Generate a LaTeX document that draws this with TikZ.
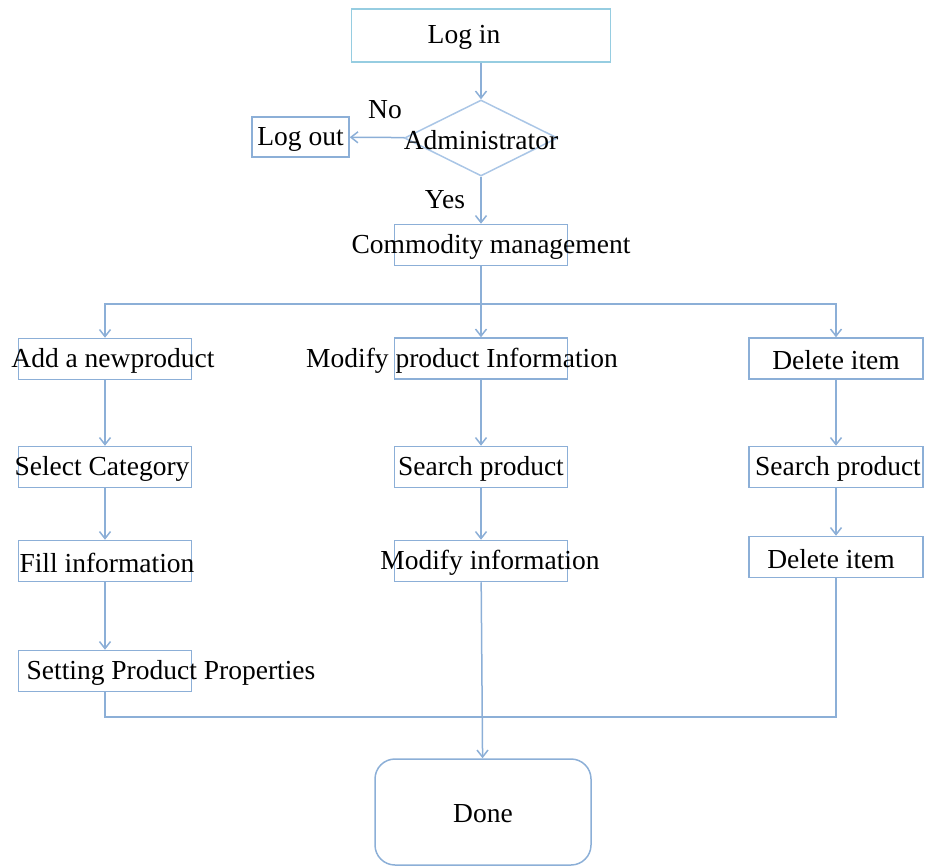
\documentclass[tikz,border=0pt]{standalone}
\usepackage{fontspec}
\setmainfont{Liberation Serif}
\usetikzlibrary{arrows.meta,shapes.geometric}

\definecolor{edgeblue}{RGB}{140,175,215}
\definecolor{loginblue}{RGB}{150,205,225}
\definecolor{diamblue}{RGB}{170,198,230}

\tikzset{
  txt/.style={font=\fontsize{27.5}{33}\selectfont, inner sep=0pt, yshift=-2pt},
  stepbox/.style={draw=edgeblue, line width=1.5pt, inner sep=0pt, minimum width=173pt, minimum height=41pt},
  flow/.style={draw=edgeblue, line width=1.5pt},
  flowarrow/.style={flow, -{Straight Barb[length=7pt,width=11pt]}}
}

\begin{document}
\begin{tikzpicture}[x=1pt,y=-1pt]
  \useasboundingbox (0,0) rectangle (928,866);

  % top part
  \node[stepbox, draw=loginblue, minimum width=259pt, minimum height=53pt,
        label={[txt,xshift=-17pt]center:Log in}] (login) at (481,35.5) {};
  \node[draw=diamblue, line width=1.5pt, shape=diamond, inner sep=0pt, minimum width=153pt, minimum height=76pt,
        label={[txt]center:Administrator}] (admin) at (481,138) {};
  \node[stepbox, minimum width=97pt, minimum height=40pt,
        label={[txt]center:Log out}] (logout) at (300.5,137) {};
  \node[stepbox, label={[txt,xshift=10pt]center:Commodity management}] (cm) at (481,245) {};
  \node[txt] (no) at (385,108) {No};
  \node[txt] (yes) at (445,198) {Yes};

  % three columns
  \node[stepbox, label={[txt,xshift=8pt]center:Add a newproduct}] (add) at (105,359) {};
  \node[stepbox, label={[txt,xshift=-3pt]center:Select Category}] (selcat) at (105,467) {};
  \node[stepbox, label={[txt,xshift=2pt]center:Fill information}] (fill) at (105,561) {};
  \node[stepbox, label={[txt,xshift=66pt]center:Setting Product Properties}] (setprop) at (105,671) {};

  \node[stepbox, label={[txt,xshift=-19pt]center:Modify product Information}] (modprod) at (481,358.5) {};
  \node[stepbox, label={[txt]center:Search product}] (search1) at (481,467) {};
  \node[stepbox, label={[txt,xshift=9pt]center:Modify information}] (modinfo) at (481,561) {};

  \node[stepbox, minimum width=174pt, label={[txt]center:Delete item}] (delitem) at (836,358.5) {};
  \node[stepbox, minimum width=174pt, label={[txt,xshift=2pt]center:Search product}] (search2) at (836,467) {};
  \node[stepbox, minimum width=174pt, label={[txt,xshift=-5pt]center:Delete item}] (delitem2) at (836,557) {};

  \node[draw=edgeblue, line width=1.5pt, rounded corners=20pt, minimum width=216pt, minimum height=106pt,
        label={[txt]center:Done}] (done) at (483,812) {};

  \coordinate (split) at (481,304);
  \coordinate (join) at (481,717);

  % connectors
  \draw[flowarrow] (login) -- (admin);
  \draw[flowarrow] (admin) -- (logout);
  \draw[flowarrow] (admin) -- (cm);
  \draw[flow] (cm) -- (split);
  \draw[flowarrow] (split) -| (add);
  \draw[flowarrow] (split) -- (modprod);
  \draw[flowarrow] (split) -| (delitem);
  \draw[flowarrow] (add) -- (selcat);
  \draw[flowarrow] (selcat) -- (fill);
  \draw[flowarrow] (fill) -- (setprop);
  \draw[flowarrow] (modprod) -- (search1);
  \draw[flowarrow] (search1) -- (modinfo);
  \draw[flowarrow] (delitem) -- (search2);
  \draw[flowarrow] (search2) -- (delitem2);
  \draw[flow] (setprop) |- (join);
  \draw[flow] (delitem2) |- (join);
  \draw[flowarrow] (modinfo) -- (done);
\end{tikzpicture}
\end{document}
